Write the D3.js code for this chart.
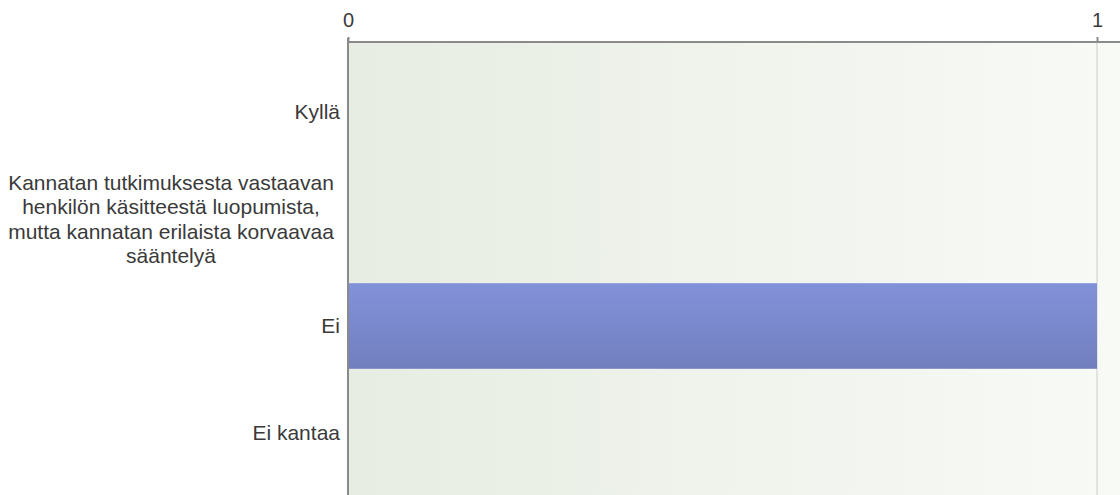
<!DOCTYPE html>
<html><head><meta charset="utf-8">
<script src="https://cdn.jsdelivr.net/npm/d3@7"></script>
<style>body{margin:0;background:#fff;font-family:"Liberation Sans",Arial,Helvetica,sans-serif}</style>
</head><body><svg id="c" width="1120" height="495"></svg>
<script>
const categories = ["Kyllä", "Kannatan tutkimuksesta vastaavan henkilön käsitteestä luopumista, mutta kannatan erilaista korvaavaa sääntelyä", "Ei", "Ei kantaa"];
const labelLines = [["Kyllä"], ["Kannatan tutkimuksesta vastaavan", "henkilön käsitteestä luopumista,", "mutta kannatan erilaista korvaavaa", "sääntelyä"], ["Ei"], ["Ei kantaa"]];
const values = [0, 0, 1, 0];
const tickValues = [0, 1];
const tickLabels = ["0", "1"];

const svg = d3.select("#c");
const pLeft = 348, pRight = 1097, pTop = 42, pBottom = 495;
const x = d3.scaleLinear().domain([0, 1]).range([pLeft, pRight]);
const y = d3.scaleBand().domain(categories).range([58.5, 486.5]).paddingInner(0.2).paddingOuter(0.1);

const defs = svg.append("defs");
const bg = defs.append("linearGradient").attr("id", "bg").attr("x1", 0).attr("x2", 1).attr("y1", 0).attr("y2", 0);
bg.append("stop").attr("offset", 0).attr("stop-color", "#e7ede2");
bg.append("stop").attr("offset", 1).attr("stop-color", "#f8faf6");
const bar = defs.append("linearGradient").attr("id", "bar").attr("x1", 0).attr("x2", 0).attr("y1", 0).attr("y2", 1);
bar.append("stop").attr("offset", 0).attr("stop-color", "#8192da");
bar.append("stop").attr("offset", 1).attr("stop-color", "#717fbe");

svg.append("rect").attr("x", pLeft).attr("y", pTop).attr("width", 1120 - pLeft).attr("height", pBottom - pTop).attr("fill", "url(#bg)");

// grid
svg.selectAll(".grid").data(tickValues.slice(1)).join("line")
  .attr("x1", d => x(d)).attr("x2", d => x(d)).attr("y1", pTop).attr("y2", pBottom)
  .attr("stroke", "#e2e4e2").attr("stroke-width", 2);

// bars
svg.selectAll(".bar").data(values).join("rect")
  .attr("x", x(0)).attr("y", (d, i) => y(categories[i]))
  .attr("width", d => x(d) - x(0)).attr("height", y.bandwidth())
  .attr("fill", "url(#bar)");

// top axis
const ax = d3.axisTop(x).tickValues(tickValues).tickFormat((d, i) => tickLabels[i]).tickSize(5).tickSizeOuter(0).tickPadding(10);
const g = svg.append("g").attr("transform", `translate(0,${pTop})`).call(ax);
g.attr("font-size", 20).attr("font-family", "Liberation Sans, Arial, sans-serif");
g.select(".domain").attr("stroke", "#8a8a8a").attr("stroke-width", 2).attr("d", `M${pLeft},0H1120`);
g.selectAll(".tick line").attr("stroke", "#8a8a8a").attr("stroke-width", 2);
g.selectAll(".tick text").style("font-size", "20px").attr("fill", "#3a3a3a");

// left axis line
svg.append("line").attr("x1", pLeft).attr("x2", pLeft).attr("y1", pTop - 4).attr("y2", pBottom)
  .attr("stroke", "#8a8a8a").attr("stroke-width", 2);

// labels
const lh = 24.5;
categories.forEach((c, i) => {
  const lines = labelLines[i];
  const cy = y(c) + y.bandwidth() / 2;
  const multi = lines.length > 1;
  const t = svg.append("text").style("font-size", "21px").attr("fill", "#3a3a3a")
    .attr("text-anchor", multi ? "middle" : "end")
    .attr("x", multi ? 171 : 340);
  lines.forEach((l, j) => {
    t.append("tspan").attr("x", multi ? 171 : 340)
      .attr("y", cy + (j - (lines.length - 1) / 2) * lh).attr("dy", "0.35em").text(l);
  });
});
</script></body></html>
